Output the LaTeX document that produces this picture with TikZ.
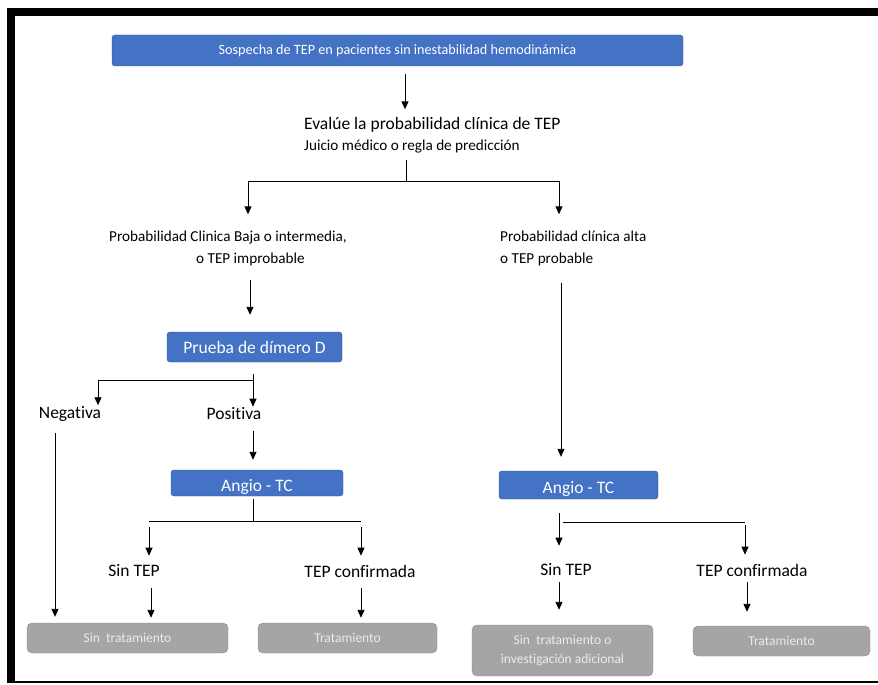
\documentclass[tikz,border=0pt]{standalone}
\usepackage{fontspec}
\setmainfont{Carlito}[Ligatures=NoCommon]
\usetikzlibrary{arrows.meta}
\definecolor{boxblue}{HTML}{4472C4}
\definecolor{boxblueline}{HTML}{2F528F}
\definecolor{boxgrey}{HTML}{A5A5A5}
\definecolor{boxgreyline}{HTML}{8C8C8C}
\tikzset{
  bluebox/.style={draw=boxblueline,fill=boxblue,rounded corners=3pt,text=white,inner sep=0pt},
  greybox/.style={draw=boxgreyline,fill=boxgrey,rounded corners=5pt,text=black!8,inner sep=0pt,align=center,font=\fontsize{13.5}{18.5}\selectfont},
  lbl/.style={inner sep=0pt,font=\fontsize{17.5}{21}\selectfont},
  sublbl/.style={inner sep=0pt,font=\fontsize{15.2}{22}\selectfont},
  conn/.style={line width=0.9pt},
  arr/.style={conn,-{Triangle[length=8pt,width=7pt]}},
}
\begin{document}
\begin{tikzpicture}[x=1pt,y=-1pt]
  \useasboundingbox (0,0) rectangle (878,685);
  \fill (7,8) rectangle (878,16);
  \fill (7,8) rectangle (15,682);
  \draw[line width=1.2pt] (7,682) -- (878,682);

  \node[bluebox,minimum width=571,minimum height=31,font=\fontsize{14.2}{17}\selectfont] (susp) at (397.5,50.5) {Sospecha de TEP en pacientes sin inestabilidad hemodinámica};
  \node[lbl,anchor=west] (eval) at (304,125) {Evalúe la probabilidad clínica de TEP};
  \node[sublbl,anchor=west] (juicio) at (304,147) {Juicio médico o regla de predicción};
  \node[sublbl,align=left] (baja) at (228,248) {Probabilidad Clinica Baja o intermedia,\\\hspace*{87pt}o TEP improbable};
  \node[sublbl,align=left,anchor=west] (alta) at (500,248) {Probabilidad clínica alta\\o TEP probable};
  \node[bluebox,minimum width=175,minimum height=30,font=\fontsize{17.5}{21}\selectfont] (dimero) at (254.5,347) {Prueba de dímero D};
  \node[lbl] (negat) at (70,414) {Negativa};
  \node[lbl] (posit) at (234,414) {Positiva};
  \node[bluebox,minimum width=172,minimum height=26,text height=17pt,text depth=0pt,font=\fontsize{17.5}{21}\selectfont] (angioL) at (257,483) {Angio - TC};
  \node[bluebox,minimum width=159,minimum height=28,text height=17pt,text depth=0pt,font=\fontsize{17.5}{21}\selectfont] (angioR) at (578.5,485) {Angio - TC};
  \node[lbl] (sinL) at (134,571) {Sin TEP};
  \node[lbl] (confL) at (360,571) {TEP confirmada};
  \node[lbl] (sinR) at (566,570) {Sin TEP};
  \node[lbl] (confR) at (752,570) {TEP confirmada};
  \node[greybox,minimum width=201,minimum height=30] (trat1) at (127.5,638) {Sin\ \ tratamiento};
  \node[greybox,minimum width=179,minimum height=30] (trat2) at (347.5,638) {Tratamiento};
  \node[greybox,minimum width=181,minimum height=51] (trat3) at (562.5,650.5) {Sin\ \ tratamiento o\\investigación adicional};
  \node[greybox,minimum width=177,minimum height=30] (trat4) at (781.5,641) {Tratamiento};

  \coordinate (f1) at (406,181);
  \coordinate (f1l) at (248,181);
  \coordinate (f1r) at (559,181);
  \coordinate (c1) at (561,283);
  \coordinate (f2) at (253,380);
  \coordinate (f2l) at (98,380);
  \coordinate (f3) at (253,521);
  \coordinate (f3l) at (149,521);
  \coordinate (f3r) at (361,521);
  \coordinate (f4) at (559,522);
  \coordinate (f4r) at (745,522);

  \draw[arr,shorten <=8pt,shorten >=8pt] (susp.south -| 405,0) -- (eval.north -| 405,0);
  \draw[conn,shorten <=6pt] (juicio.south -| f1) -- (f1);
  \draw[conn] (f1l) -- (f1r);
  \draw[arr,shorten >=16pt] (f1l) -- (f1l |- baja.north);
  \draw[arr,shorten >=16pt] (f1r) -- (f1r |- alta.north);
  \draw[arr,shorten <=14pt,shorten >=17pt] (baja.south -| 250,0) -- (dimero.north -| 250,0);
  \draw[arr,shorten >=14pt] (c1) -- (c1 |- angioR.north);
  \draw[arr,shorten <=12pt,shorten >=1pt] (dimero.south -| f2) -- (f2 |- posit.north);
  \draw[arr,shorten >=1pt] (f2) -- (f2l) -- (f2l |- negat.north);
  \draw[arr,shorten <=11pt,shorten >=10pt] (posit.south -| f2) -- (f2 |- angioL.north);
  \draw[arr,shorten <=11pt,shorten >=6pt] (negat.south -| 55,0) -- (trat1.north -| 55,0);
  \draw[conn,shorten <=3pt] (angioL.south -| f3) -- (f3);
  \draw[conn] (f3l) -- (f3r);
  \draw[arr,shorten <=6pt,shorten >=9pt] (f3l) -- (f3l |- sinL.north);
  \draw[arr,shorten <=6pt,shorten >=9pt] (f3r) -- (f3r |- confL.north);
  \draw[arr,shorten <=11pt,shorten >=5pt] (sinL.south -| 151,0) -- (trat1.north -| 151,0);
  \draw[arr,shorten <=11pt,shorten >=5pt] (confL.south -| f3r) -- (f3r |- trat2.north);
  \draw[arr,shorten <=14pt,shorten >=18pt] (angioR.south -| f4) -- (f4 |- sinR.north);
  \draw[conn] ([xshift=4pt]f4) -- (f4r);
  \draw[arr,shorten <=3pt,shorten >=9pt] (f4r) -- (f4r |- confR.north);
  \draw[arr,shorten <=6pt,shorten >=15pt] (sinR.south -| f4) -- (f4 |- trat3.north);
  \draw[arr,shorten <=6pt,shorten >=14pt] (confR.south -| 747,0) -- (trat4.north -| 747,0);
\end{tikzpicture}
\end{document}
